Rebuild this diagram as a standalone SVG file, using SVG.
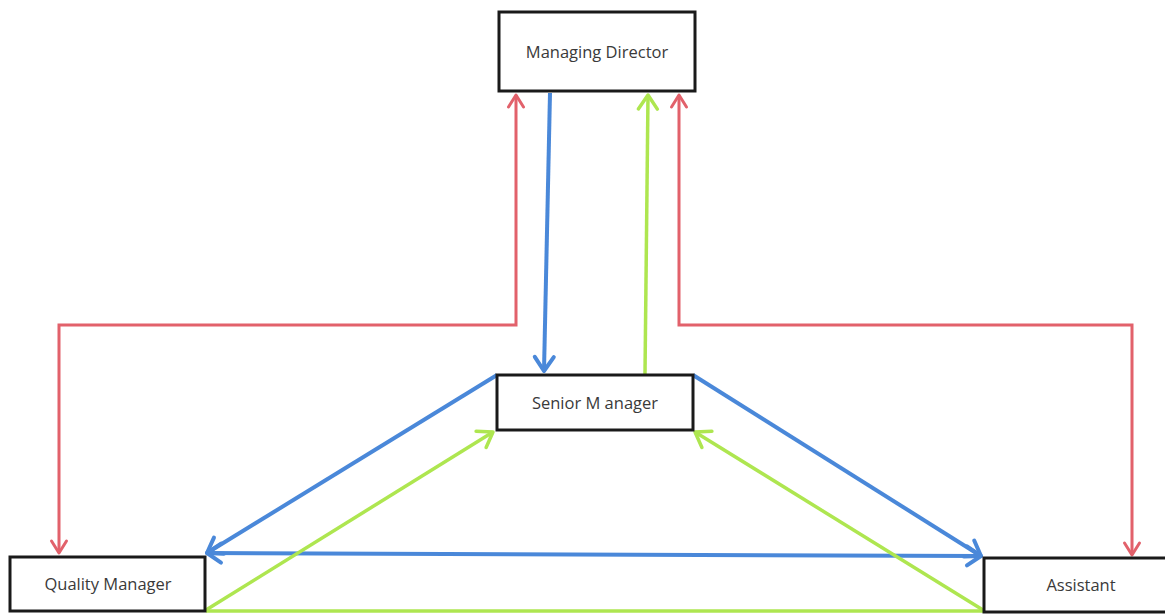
<svg xmlns="http://www.w3.org/2000/svg" width="1165" height="614" viewBox="0 0 1165 614">
<style>
.box{fill:#fff;stroke:#1a1a1a;stroke-width:3}
.lbl{font-family:"Open Sans","Liberation Sans",sans-serif;font-size:16.5px;fill:#3a3a3a;text-anchor:middle}
.r{stroke:#e2616b;stroke-width:3;fill:none}
.b{stroke:#4a88d9;stroke-width:4;fill:none}
.g{stroke:#aee650;stroke-width:3.5;fill:none}
</style>
<defs>
<marker id="mr" markerUnits="userSpaceOnUse" markerWidth="20" markerHeight="20" viewBox="0 0 20 20" refX="17" refY="10" orient="auto-start-reverse">
<path d="M5,2.5 L17,10 L5,17.5" fill="none" stroke="#e2616b" stroke-width="3" stroke-linecap="round" stroke-linejoin="round"/>
</marker>
<marker id="mb" markerUnits="userSpaceOnUse" markerWidth="26" markerHeight="26" viewBox="0 0 26 26" refX="22" refY="13" orient="auto-start-reverse">
<path d="M8,3.5 L22,13 L8,22.5" fill="none" stroke="#4a88d9" stroke-width="4" stroke-linecap="round" stroke-linejoin="round"/>
</marker>
<marker id="mg" markerUnits="userSpaceOnUse" markerWidth="26" markerHeight="26" viewBox="0 0 26 26" refX="22" refY="13" orient="auto-start-reverse">
<path d="M8,3.5 L22,13 L8,22.5" fill="none" stroke="#aee650" stroke-width="3.5" stroke-linecap="round" stroke-linejoin="round"/>
</marker>
</defs>
<rect width="1165" height="614" fill="#fff"/>
<g id="connectors">
<polyline class="r" points="59,553 59,325 516,325 516,95" marker-start="url(#mr)" marker-end="url(#mr)"/>
<polyline class="r" points="679,95 679,325 1132,325 1132,555" marker-start="url(#mr)" marker-end="url(#mr)"/>
<line class="b" x1="550" y1="93" x2="544" y2="371" marker-end="url(#mb)"/>
<line class="g" x1="645" y1="374" x2="648" y2="95" marker-end="url(#mg)"/>
<line class="b" x1="497" y1="375" x2="207" y2="553" marker-end="url(#mb)"/>
<line class="b" x1="693" y1="375" x2="981" y2="556" marker-end="url(#mb)"/>
<line class="b" x1="207" y1="553" x2="981" y2="556" marker-start="url(#mb)" marker-end="url(#mb)"/>
<line class="g" x1="206" y1="610" x2="493" y2="432" marker-end="url(#mg)"/>
<line class="g" x1="983" y1="610" x2="695" y2="432" marker-end="url(#mg)"/>
<line class="g" x1="206" y1="611" x2="984" y2="611"/>
</g>
<g id="managing-director">
<rect class="box" x="499" y="12" width="196" height="79"/>
<text class="lbl" x="597" y="58">Managing Director</text>
</g>
<g id="senior-manager">
<rect class="box" x="497" y="375" width="196" height="55"/>
<text class="lbl" x="595" y="409">Senior M anager</text>
</g>
<g id="quality-manager">
<rect class="box" x="10" y="557" width="195" height="54"/>
<text class="lbl" x="108" y="590">Quality Manager</text>
</g>
<g id="assistant">
<rect class="box" x="984" y="558" width="200" height="54"/>
<text class="lbl" x="1081" y="591">Assistant</text>
</g>
</svg>
